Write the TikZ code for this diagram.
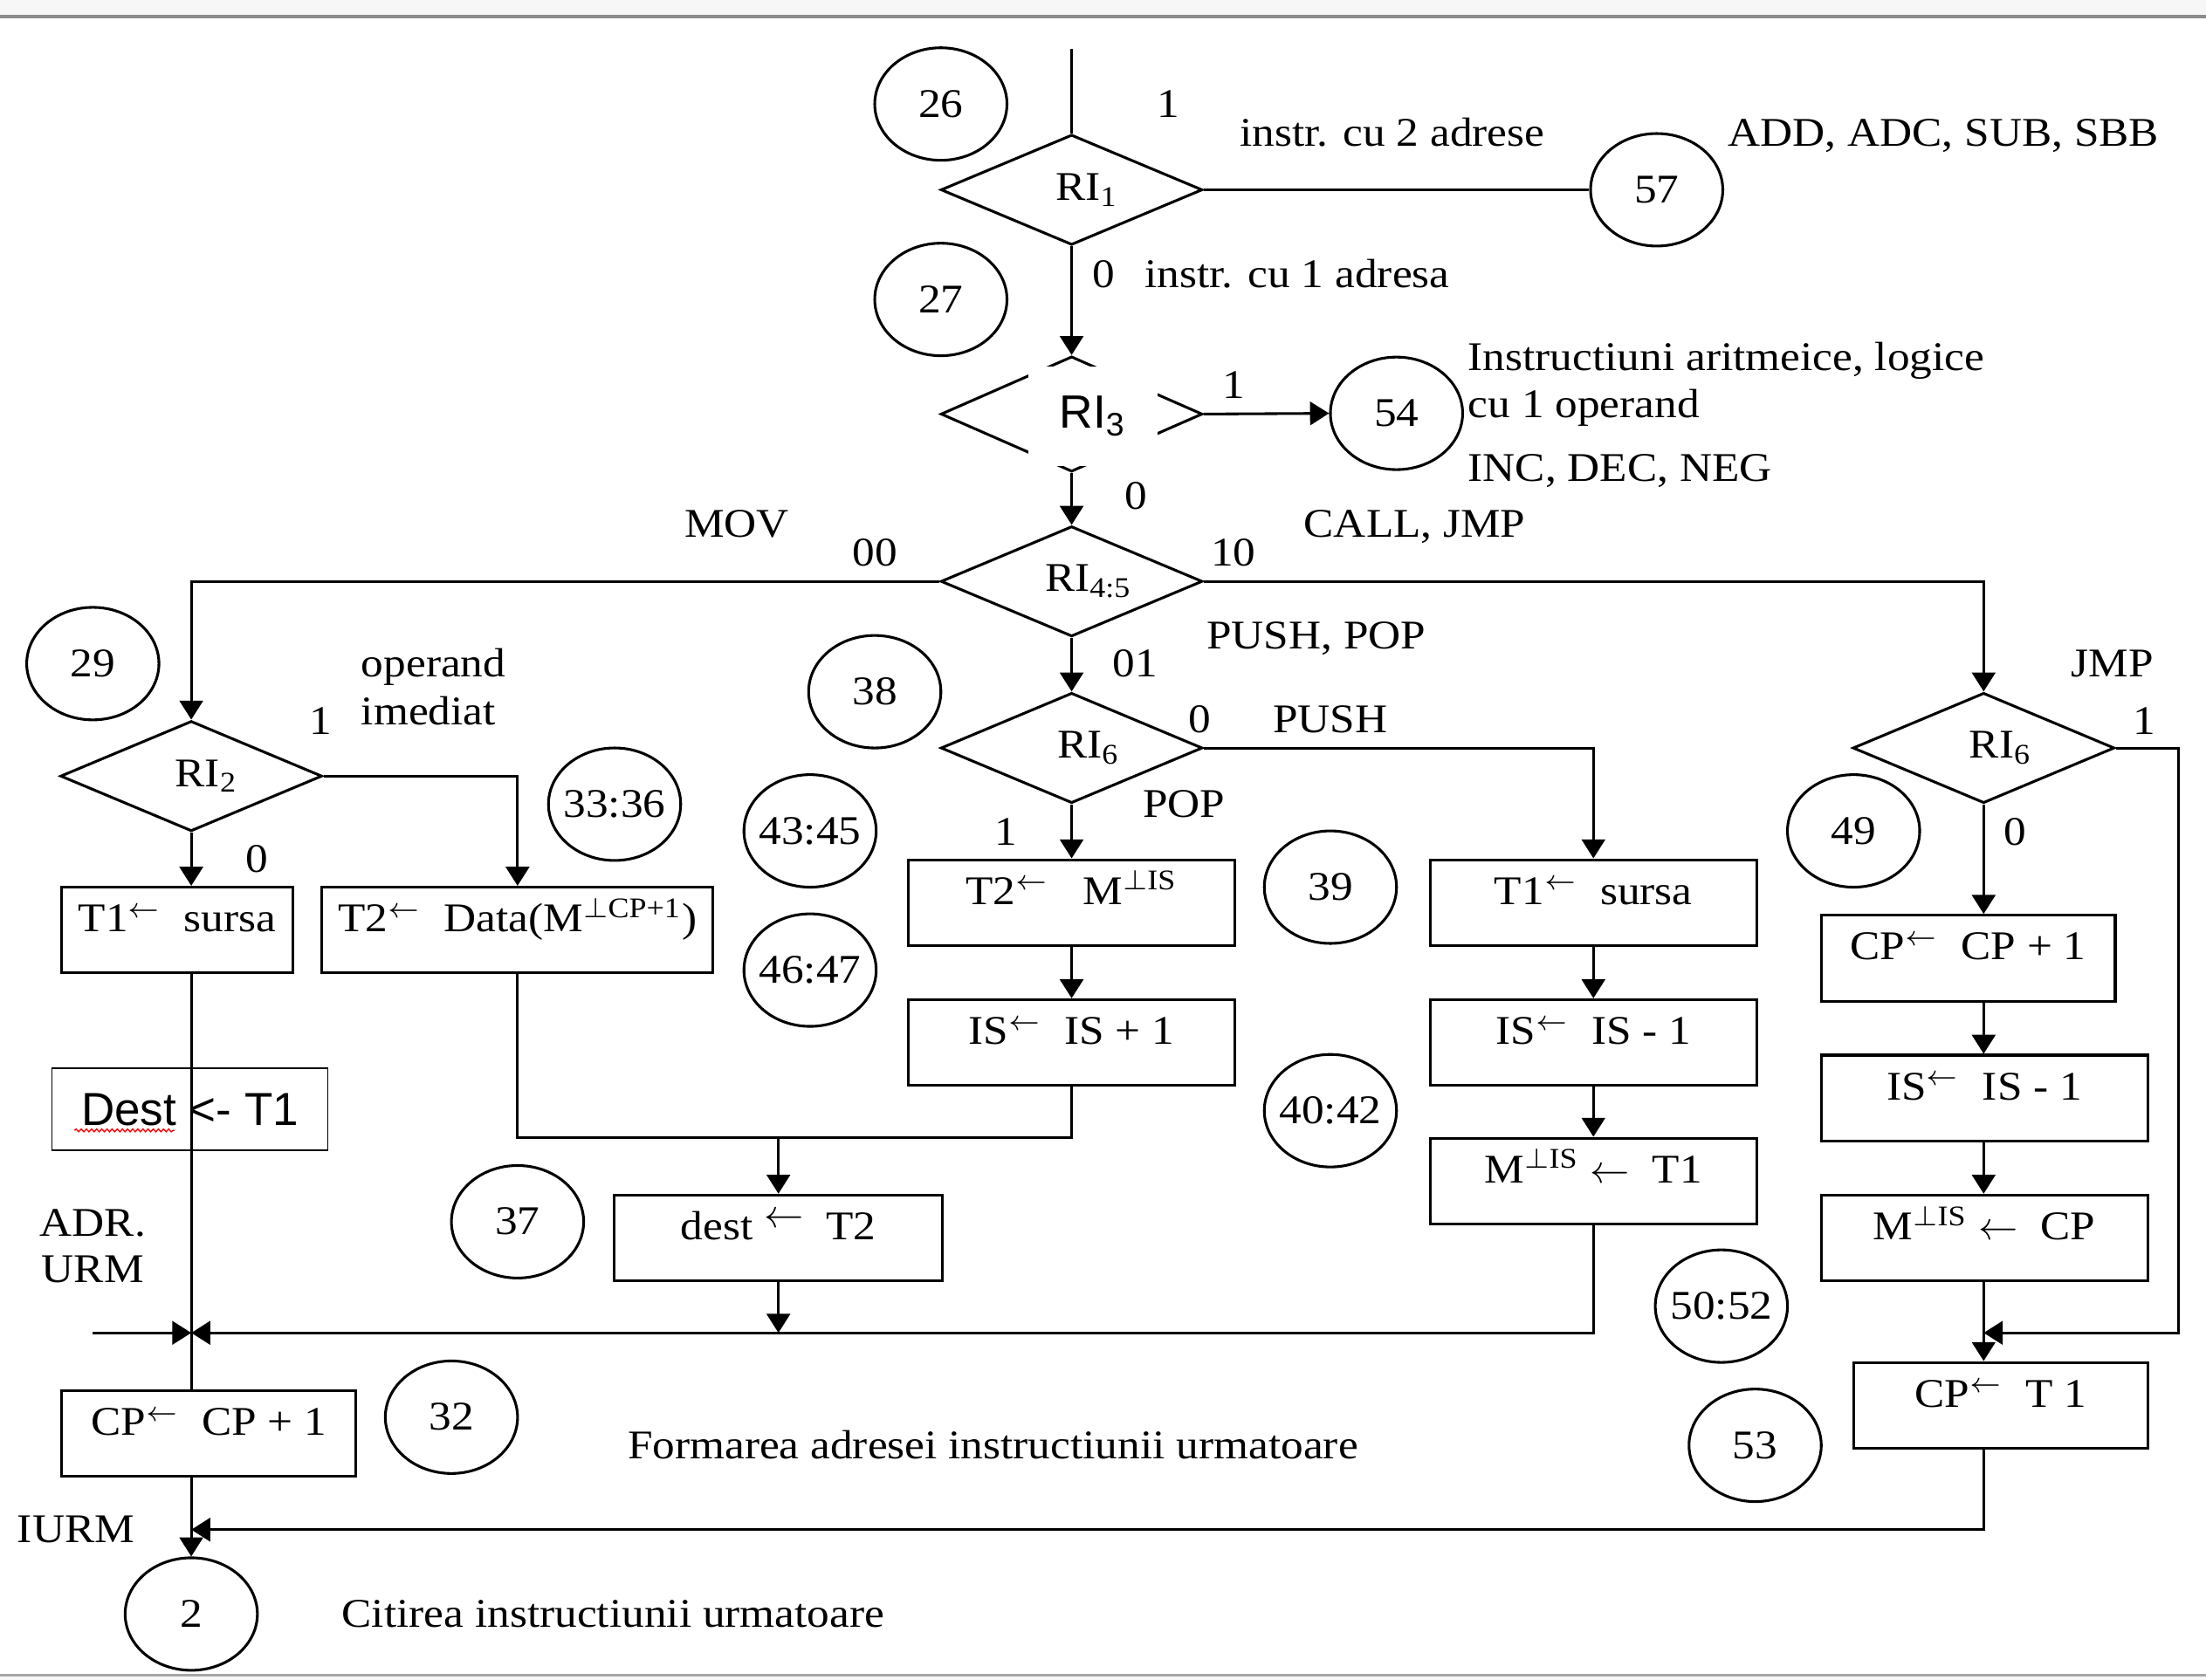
\documentclass[tikz,border=0pt]{standalone}
\usepackage{fontspec}
\setmainfont{Liberation Serif}[FakeStretch=1.1]
\newfontfamily\arialf{Liberation Sans}
\usepackage{tikz}
\usetikzlibrary{shapes, arrows.meta, decorations.pathmorphing}

\begin{document}
\begin{tikzpicture}[x=0.0125cm, y=-0.0125cm, line width=0.68pt,
                >={Triangle[length=4.8pt, width=5.9pt]},
                font=\fontsize{10.3}{12}\selectfont,
                cond/.style = {draw, diamond, aspect=2.4, inner sep=0pt, minimum width=2.325cm, minimum height=0.98cm},
                state/.style = {draw, ellipse, inner xsep=-4pt, inner ysep=0pt, minimum width=1.175cm, minimum height=1cm, text height=0.66em, text depth=0pt},
                op/.style = {draw, rectangle, inner sep=0pt, minimum height=0.7625cm, text height=0.66em, text depth=0.57em},
                txt/.style = {inner sep=0pt, text height=0.66em, text depth=0pt}]
                \useasboundingbox (0, 0) rectangle (1568.6, 1194.9);
                \fill[black!3] (0, 0) rectangle (1568.6, 11);
                \draw[black!45, line width=1pt] (0, 11.8) -- (1568.6, 11.8);
                \draw[black!35, line width=0.8pt] (0, 1192) -- (1568.6, 1192);
                \fill[black!3] (0, 1192.6) rectangle (1568.6, 1194.9);

                % decisions
                \node[cond] at (762, 135) (ri1) {\hspace*{0.27cm}RI\textsubscript{1}};
                \node[cond, minimum height=1.025cm] at (762, 294.5) (ri3) {};
                \node[fill=white, inner sep=0pt, minimum width=1.15cm, minimum height=0.8875cm] at (777, 296) (ri3lbl) {\arialf\fontsize{11.8}{13}\selectfont RI\textsubscript{3}};
                \node[cond] at (762, 413.5) (ri45) {\hspace*{0.3cm}RI\textsubscript{4:5}};
                \node[cond] at (136, 552) (ri2) {\hspace*{0.27cm}RI\textsubscript{2}};
                \node[cond] at (762, 532) (ri6a) {\hspace*{0.3cm}RI\textsubscript{6}};
                \node[cond] at (1410.5, 532) (ri6b) {\hspace*{0.3cm}RI\textsubscript{6}};

                % states
                \node[state] at (669, 74) (s26) {26};
                \node[state] at (669, 213) (s27) {27};
                \node[state] at (1178, 135) (s57) {57};
                \node[state] at (993, 294) (s54) {54};
                \node[state] at (66, 472) (s29) {29};
                \node[state] at (622, 492) (s38) {38};
                \node[state] at (437, 572) (s3336) {33:36};
                \node[state] at (576, 591) (s4345) {43:45};
                \node[state] at (576, 690) (s4647) {46:47};
                \node[state] at (946, 631) (s39) {39};
                \node[state] at (946, 790) (s4042) {40:42};
                \node[state] at (368, 869) (s37) {37};
                \node[state] at (1224, 929) (s5052) {50:52};
                \node[state] at (1318, 591) (s49) {49};
                \node[state] at (321, 1008) (s32) {32};
                \node[state] at (1248, 1028) (s53) {53};
                \node[state] at (136, 1148) (s2) {2};

                % operations
                \node[op, minimum width=2.05cm] at (126, 661.5) (t1src) {T1\textsuperscript{$\leftarrow$}\ \ sursa};
                \node[op, minimum width=3.475cm] at (368, 661.5) (t2dat) {T2\textsuperscript{$\leftarrow$}\ \ Data(M\textsuperscript{$\perp$CP+1})};
                \node[op, minimum width=2.9cm] at (762, 642) (t2m) {T2\textsuperscript{$\leftarrow$}\ \ \ M\textsuperscript{$\perp$IS}};
                \node[op, minimum width=2.9cm] at (762, 741.5) (isinc) {IS\textsuperscript{$\leftarrow$}\ \ IS + 1};
                \node[op, minimum width=2.9cm] at (1133, 642) (t1src2) {T1\textsuperscript{$\leftarrow$}\ \ sursa};
                \node[op, minimum width=2.9cm] at (1133, 741.5) (isdec) {IS\textsuperscript{$\leftarrow$}\ \ IS - 1};
                \node[op, minimum width=2.9cm] at (1133, 840) (mist1) {M\textsuperscript{$\perp$IS} $\leftarrow$\ \ T1};
                \node[op, minimum width=2.9125cm] at (553.5, 880.5) (dest) {dest \raisebox{0.3em}{$\leftarrow$}\ \ T2};
                \node[op, minimum width=2.6125cm] at (148.5, 1019.5) (cpinc) {CP\textsuperscript{$\leftarrow$}\ \ CP + 1};
                \node[op, minimum width=2.6125cm] at (1399.5, 681.5) (cpinc2) {CP\textsuperscript{$\leftarrow$}\ \ CP + 1};
                \node[op, minimum width=2.9cm] at (1411, 781) (isdec2) {IS\textsuperscript{$\leftarrow$}\ \ IS - 1};
                \node[op, minimum width=2.9cm] at (1411, 880.5) (micp) {M\textsuperscript{$\perp$IS} $\leftarrow$\ \ CP};
                \node[op, minimum width=2.6125cm] at (1422.5, 999.5) (cpt1) {CP\textsuperscript{$\leftarrow$}\ \ T 1};
                \node[draw, line width=0.4pt, minimum width=2.45cm, minimum height=0.725cm, inner sep=0pt] at (135, 789) (dst) {\arialf\fontsize{11.7}{13}\selectfont Dest <- T1};
                \draw[red, line width=0.3pt, decorate, decoration={snake, amplitude=0.35pt, segment length=1.3pt}] (53, 804) -- (124, 804);

                % labels
                \node[txt] at (831, 74) (l1a) {1};
                \node[txt] at (990, 95) (l2adr) {instr. cu 2 adrese};
                \node[txt] at (1382, 95) (ladd) {ADD, ADC, SUB, SBB};
                \node[txt] at (785, 195) (l0a) {0};
                \node[txt, anchor=west] at (813, 195) (l1adr) {instr. cu 1 adresa};
                \node[txt] at (877, 274) (l1b) {1};
                \node[txt, anchor=west] at (1043, 254) (lar1) {Instructiuni aritmeice, logice};
                \node[txt, anchor=west] at (1043, 288) (lar2) {cu 1 operand};
                \node[txt, anchor=west] at (1043, 333) (linc) {INC, DEC, NEG};
                \node[txt] at (808, 353) (l0b) {0};
                \node[txt] at (524, 373) (lmov) {MOV};
                \node[txt] at (622, 393) (l00) {00};
                \node[txt] at (877, 393) (l10) {10};
                \node[txt] at (1006, 373) (lcall) {CALL, JMP};
                \node[txt] at (936, 452) (lpp) {PUSH, POP};
                \node[txt] at (807, 472) (l01) {01};
                \node[txt, anchor=west] at (256, 472) (lop1) {operand};
                \node[txt, anchor=west] at (256, 506) (lop2) {imediat};
                \node[txt] at (228, 513) (l1c) {1};
                \node[txt] at (183, 611) (l0c) {0};
                \node[txt] at (853, 512) (l0d) {0};
                \node[txt] at (946, 512) (lpush) {PUSH};
                \node[txt] at (842, 572) (lpop) {POP};
                \node[txt] at (715, 592) (l1d) {1};
                \node[txt] at (1502, 472) (ljmp) {JMP};
                \node[txt] at (1525, 513) (l1e) {1};
                \node[txt] at (1433, 592) (l0e) {0};
                \node[txt] at (66, 870) (ladr) {ADR.};
                \node[txt] at (66, 903) (lurm) {URM};
                \node[txt] at (54, 1088) (liurm) {IURM};
                \node[txt] at (706, 1028) (lform) {Formarea adresei instructiunii urmatoare};
                \node[txt] at (436, 1148) (lcit) {Citirea instructiunii urmatoare};

                % joints
                \coordinate (start) at (762, 35);
                \coordinate (mid) at (553.5, 809);
                \coordinate (merge) at (136, 948);
                \coordinate (adr) at (66, 948);
                \coordinate (jr) at (1549, 532);
                \coordinate (jmpjoin) at (1410.5, 948);
                \coordinate (back) at (136, 1088);

                \draw (start) -- (ri1.north);
                \draw (ri1.east) -- (s57.west);
                \draw [->] (ri1.south) -- (ri3.north);
                \draw [->] (ri3.east) -- (s54.west);
                \draw [->] (ri3.south) -- (ri45.north);
                \draw [->] (ri45.west) -| (ri2.north);
                \draw [->] (ri45.east) -| (ri6b.north);
                \draw [->] (ri45.south) -- (ri6a.north);

                \draw [->] (ri2.east) -| (t2dat.north);
                \draw [->] (ri2.south) -- (ri2.south |- t1src.north);
                \draw (ri2.south |- t1src.south) -- (ri2.south |- cpinc.north);
                \draw (t2dat.south) |- (mid) -| (isinc.south);
                \draw [->] (mid) -- (dest.north);
                \draw [->] (dest.south) -- (dest.south |- merge);
                \draw [->] (adr) -- (merge);
                \draw [->] (ri2.south |- cpinc.south) -- (s2.north);

                \draw [->] (ri6a.south) -- (t2m.north);
                \draw [->] (t2m.south) -- (isinc.north);
                \draw [->] (ri6a.east) -| (t1src2.north);
                \draw [->] (t1src2.south) -- (isdec.north);
                \draw [->] (isdec.south) -- (mist1.north);
                \draw [->] (mist1.south) |- (merge);

                \draw [->] (ri6b.south) -- (ri6b.south |- cpinc2.north);
                \draw [->] (ri6b.south |- cpinc2.south) -- (ri6b.south |- isdec2.north);
                \draw [->] (ri6b.south |- isdec2.south) -- (ri6b.south |- micp.north);
                \draw [->] (ri6b.south |- micp.south) -- (ri6b.south |- cpt1.north);
                \draw [->] (ri6b.east) -- (jr) |- (jmpjoin);
                \draw [->] (jmpjoin |- cpt1.south) |- (back);
\end{tikzpicture}
\end{document}
